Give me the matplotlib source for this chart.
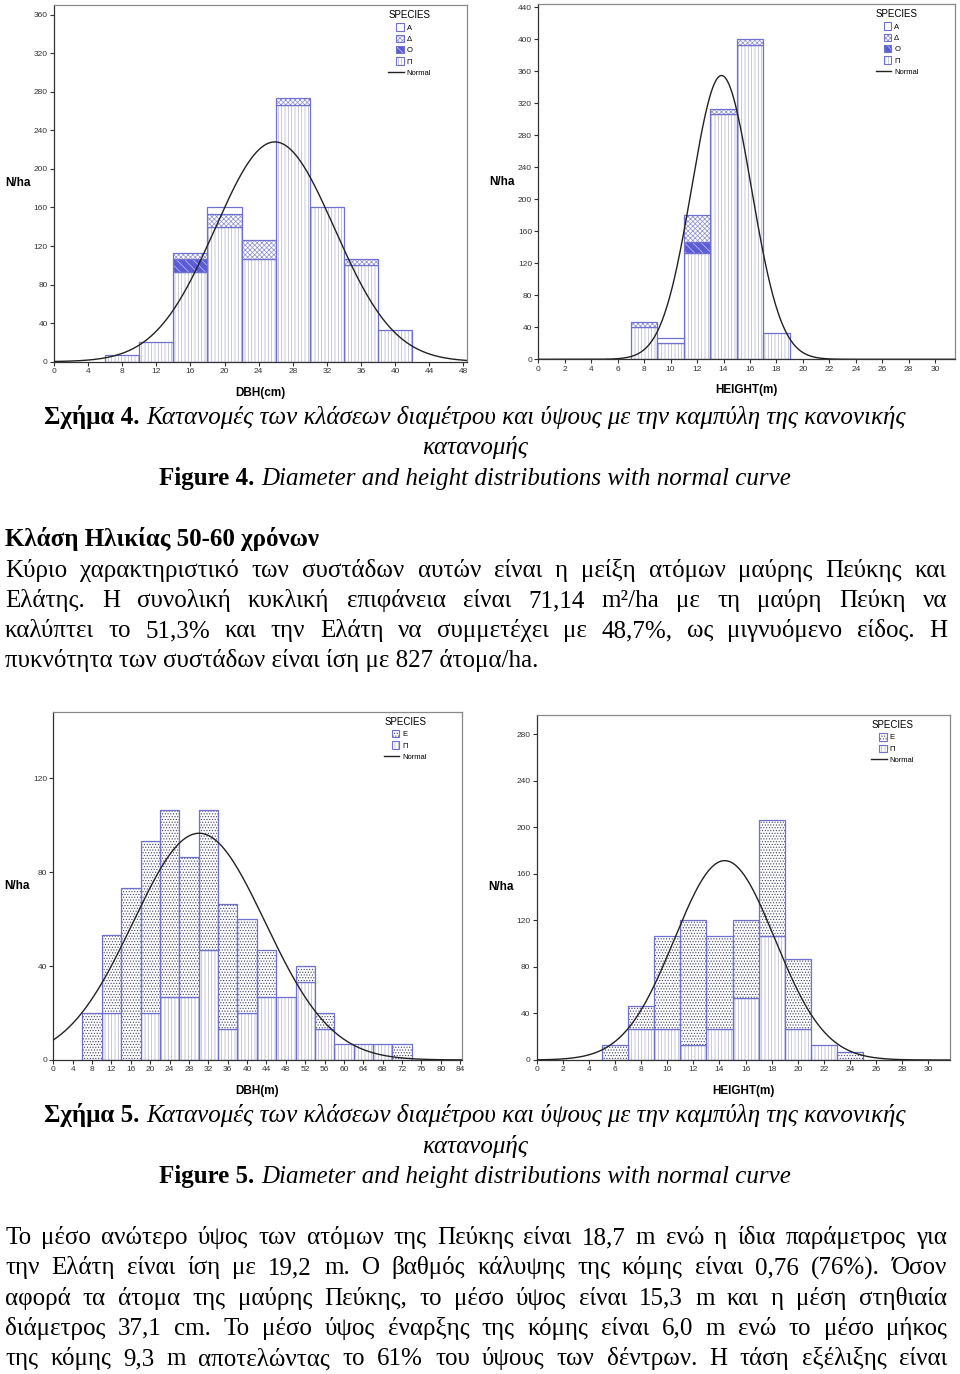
import numpy as np
import matplotlib
matplotlib.use('Agg')
import matplotlib.pyplot as plt
from matplotlib.patches import Patch, Rectangle
from matplotlib.lines import Line2D
from matplotlib.legend_handler import HandlerPatch
from matplotlib.transforms import IdentityTransform

plt.rcParams['hatch.linewidth'] = 0.5
plt.rcParams['font.family'] = ['Liberation Sans', 'DejaVu Sans']

# Figure 4: DBH classes (cm), width 4, N/ha by species
dbh4_left = [6, 10, 14, 18, 22, 26, 30, 34, 38]
dbh4_P = [6.67, 20, 93.3, 140, 106.7, 266.7, 160, 100, 33.3]
dbh4_O = [0, 0, 13.3, 0, 0, 0, 0, 0, 0]
dbh4_D = [0, 0, 6.67, 13.3, 20, 6.67, 0, 6.67, 0]
dbh4_A = [0, 0, 0, 6.67, 0, 0, 0, 0, 0]
dbh4_norm = (25.9, 7.0, 1000)       # mean, sd, N

# Figure 4: height classes (m), width 2
ht4_left = [7, 9, 11, 13, 15, 17]
ht4_P = [40, 20, 133.3, 306.7, 393.3, 33.3]
ht4_O = [0, 0, 13.3, 0, 0, 0]
ht4_D = [6.67, 0, 33.3, 6.67, 6.67, 0]
ht4_A = [0, 6.67, 0, 0, 0, 0]
ht4_norm = (13.85, 2.25, 1000)

# Figure 5: DBH classes, width 4
dbh5_left = [6, 10, 14, 18, 22, 26, 30, 34, 38, 42, 46, 50, 54, 58, 62, 66, 70]
dbh5_P = [0, 20, 0, 20, 26.7, 26.7, 46.7, 13.3, 20, 26.7, 26.7, 33.3, 13.3, 6.67, 6.67, 6.67, 0]
dbh5_E = [20, 33.3, 73.3, 73.3, 80, 60, 60, 53.3, 40, 20, 0, 6.67, 6.67, 0, 0, 0, 6.67]
dbh5_norm = (30.1, 13.66, 827)

# Figure 5: height classes, width 2
ht5_left = [5, 7, 9, 11, 13, 15, 17, 19, 21, 23]
ht5_P = [0, 26.7, 26.7, 13.3, 26.7, 53.3, 106.7, 26.7, 13.3, 0]
ht5_E = [13.3, 20, 80, 106.7, 80, 66.7, 100, 60, 0, 6.67]
ht5_norm = (14.4, 3.85, 827)

EDGE = '#7070d0'
STYLE = {
    'Α': dict(face='white', hc='white', hatch=None),
    'Δ': dict(face='white', hc='#8c8cd0', hatch='xxxxxxx'),
    'Ο': dict(face='#5c5cd6', hc='#c8c8f4', hatch='\\\\\\\\'),
    'Π': dict(face='white', hc='#b4b4cc', hatch='|||||'),
    'Ε': dict(face='white', hc='#40406a', hatch='......'),
}

W, H = 960, 1374
fig = plt.figure(figsize=(W / 100, H / 100), dpi=100)


def square(legend, orig_handle, xdescent, ydescent, width, height, fontsize):
    return Rectangle((-xdescent + width - height, -ydescent), height, height)


def panel(box, left, width, stacks, norm, xlim, ylim, xticks, yticks, xlabel, leg):
    l, t, r, b = box
    ax = fig.add_axes([l / W, 1 - b / H, (r - l) / W, (b - t) / H])
    left = np.array(left, float)
    bottom = np.zeros(len(left))
    for key, vals in stacks:
        vals = np.array(vals, float)
        m = vals > 0
        st = STYLE[key]
        ax.bar(left[m], vals[m], width, bottom=bottom[m], align='edge',
               color=st['face'], edgecolor=st['hc'], hatch=st['hatch'], linewidth=0)
        ax.bar(left[m], vals[m], width, bottom=bottom[m], align='edge',
               fill=False, edgecolor=EDGE, linewidth=0.9)
        bottom += vals
    mu, sd, n = norm
    x = np.linspace(xlim[0], xlim[1], 500)
    y = n * width / (sd * np.sqrt(2 * np.pi)) * np.exp(-(x - mu) ** 2 / (2 * sd ** 2))
    ax.plot(x, y, color='#222222', lw=1.0, zorder=5)
    ax.set_xlim(*xlim)
    ax.set_ylim(*ylim)
    ax.set_xticks(xticks)
    ax.set_yticks(yticks)
    ax.tick_params(labelsize=6, length=3, width=0.8, pad=1.5, direction='out', colors='#333333')
    for s in ax.spines.values():
        s.set_color('#888888')
        s.set_linewidth(0.9)
    ax.spines['left'].set_color('#333333')
    ax.spines['bottom'].set_color('#333333')
    ax.set_ylabel('N/ha', rotation=0, fontsize=8.5, fontweight='bold', ha='center', va='center')
    ax.yaxis.set_label_coords(-36 / (r - l), 0.5)
    ax.set_xlabel(xlabel, fontsize=8.5, fontweight='bold', va='center')
    ax.xaxis.set_label_coords(0.5, -31 / (b - t))

    handles, labels = [], []
    for key in leg:
        st = STYLE[key]
        handles.append((Patch(facecolor=st['face'], edgecolor=st['hc'], hatch=st['hatch'], linewidth=0),
                        Patch(fill=False, edgecolor=EDGE, linewidth=0.8)))
        labels.append(key)
    handles.append(Line2D([], [], color='#222222', lw=1.0))
    labels.append('Normal')
    ax.legend(handles, labels, title='SPECIES', loc='upper left',
              bbox_to_anchor=(0.81, 0.985), frameon=False, fontsize=5.5,
              title_fontsize=7, handlelength=2.0, handleheight=1.1,
              handletextpad=0.4, labelspacing=0.4, borderpad=0, borderaxespad=0,
              alignment='left', handler_map={Patch: HandlerPatch(patch_func=square)})
    return ax


panel((54, 5, 466.7, 361.7), dbh4_left, 4,
      [('Π', dbh4_P), ('Ο', dbh4_O), ('Δ', dbh4_D), ('Α', dbh4_A)], dbh4_norm,
      (0, 48.4), (0, 370), np.arange(0, 49, 4), np.arange(0, 361, 40), 'DBH(cm)',
      ['Α', 'Δ', 'Ο', 'Π'])
panel((538.3, 4, 955, 359.3), ht4_left, 2,
      [('Π', ht4_P), ('Ο', ht4_O), ('Δ', ht4_D), ('Α', ht4_A)], ht4_norm,
      (0, 31.5), (0, 444), np.arange(0, 31, 2), np.arange(0, 441, 40), 'HEIGHT(m)',
      ['Α', 'Δ', 'Ο', 'Π'])
panel((53.3, 711.7, 461.7, 1060), dbh5_left, 4,
      [('Π', dbh5_P), ('Ε', dbh5_E)], dbh5_norm,
      (0, 84.3), (0, 148.4), np.arange(0, 85, 4), np.arange(0, 121, 40), 'DBH(m)',
      ['Ε', 'Π'])
panel((536.7, 715, 950, 1060), ht5_left, 2,
      [('Π', ht5_P), ('Ε', ht5_E)], ht5_norm,
      (0, 31.66), (0, 296.6), np.arange(0, 31, 2), np.arange(0, 281, 40), 'HEIGHT(m)',
      ['Ε', 'Π'])

# ---- page text ----
SERIF = ['Liberation Serif', 'DejaVu Serif']
FS = 18
renderer = fig.canvas.get_renderer()


def put(s, x, y, **kw):
    return fig.text(x, H - y, s, transform=IdentityTransform(), family=SERIF,
                    fontsize=FS, va='baseline', **kw)


def width_of(t):
    return t.get_window_extent(renderer).width


def justified(line, y, x0=5, x1=947):
    ts = [put(w, 0, y) for w in line.split()]
    ws = [width_of(t) for t in ts]
    gap = (x1 - x0 - sum(ws)) / (len(ws) - 1)
    x = x0
    for t, w in zip(ts, ws):
        t.set_x(x)
        x += w + gap


def centered(runs, y, xc=475):
    ts = [put(s, 0, y, **st) for s, st in runs]
    ws = [width_of(t) for t in ts]
    sp = 0.25 * FS * 100 / 72
    x = xc - (sum(ws) + sp * (len(ws) - 1)) / 2
    for t, w in zip(ts, ws):
        t.set_x(x)
        x += w + sp


B = dict(fontweight='bold')
I = dict(fontstyle='italic')

cap_gr = 'Κατανομές των κλάσεων διαμέτρου και ύψους με την καμπύλη της κανονικής'
cap_en = 'Diameter and height distributions with normal curve'

centered([('Σχήμα 4.', B), (cap_gr, I)], 424)
centered([('κατανομής', I)], 454)
centered([('Figure 4.', B), (cap_en, I)], 485)

put('Κλάση Ηλικίας 50-60 χρόνων', 5, 546, fontweight='bold')
para1 = [
    'Κύριο χαρακτηριστικό των συστάδων αυτών είναι η μείξη ατόμων μαύρης Πεύκης και',
    'Ελάτης. Η συνολική κυκλική επιφάνεια είναι 71,14 m²/ha με τη μαύρη Πεύκη να',
    'καλύπτει το 51,3% και την Ελάτη να συμμετέχει με 48,7%, ως μιγνυόμενο είδος. Η',
]
for i, line in enumerate(para1):
    justified(line, 577 + 30 * i)
put('πυκνότητα των συστάδων είναι ίση με 827 άτομα/ha.', 5, 667)

centered([('Σχήμα 5.', B), (cap_gr, I)], 1122)
centered([('κατανομής', I)], 1153)
centered([('Figure 5.', B), (cap_en, I)], 1183)

para2 = [
    'Το μέσο ανώτερο ύψος των ατόμων της Πεύκης είναι 18,7 m ενώ η ίδια παράμετρος για',
    'την Ελάτη είναι ίση με 19,2 m. Ο βαθμός κάλυψης της κόμης είναι 0,76 (76%). Όσον',
    'αφορά τα άτομα της μαύρης Πεύκης, το μέσο ύψος είναι 15,3 m και η μέση στηθιαία',
    'διάμετρος 37,1 cm. Το μέσο ύψος έναρξης της κόμης είναι 6,0 m ενώ το μέσο μήκος',
    'της κόμης 9,3 m αποτελώντας το 61% του ύψους των δέντρων. Η τάση εξέλιξης είναι',
]
for i, line in enumerate(para2):
    justified(line, 1244 + 30.3 * i)

fig.savefig('out.png', dpi=100)
